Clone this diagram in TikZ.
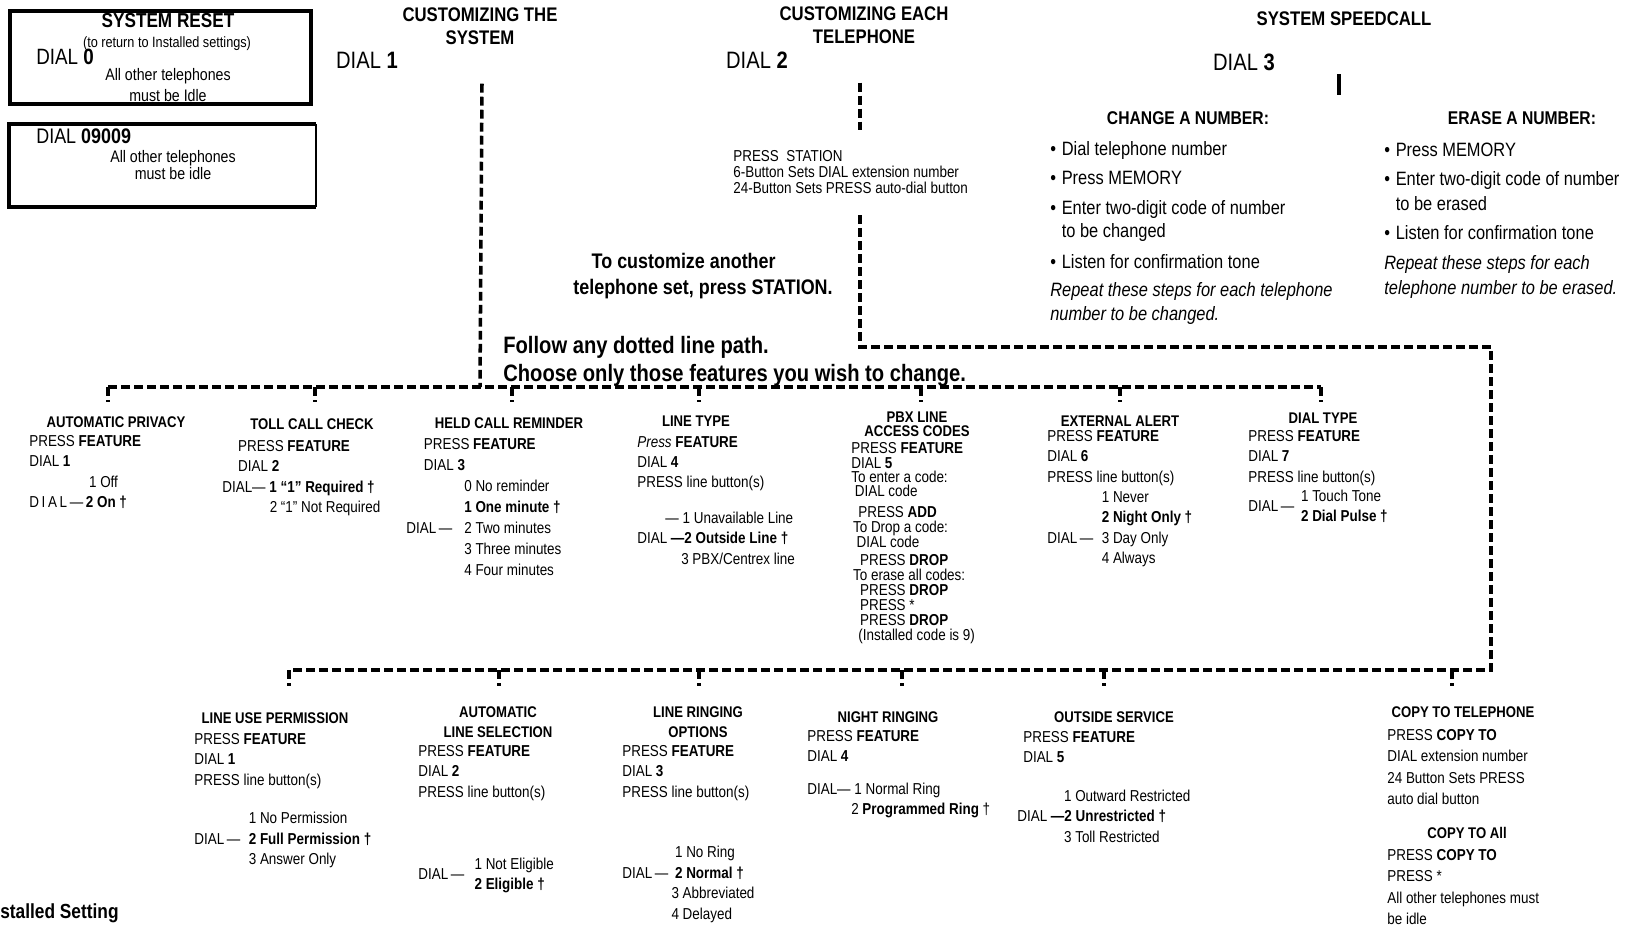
\documentclass[tikz,border=0pt]{standalone}
\usepackage{fontspec}
\setmainfont{Liberation Sans}[FakeStretch=0.85]
\usepackage{tikz}
\usetikzlibrary{positioning}

\newcommand{\dotitem}{\makebox[6.5pt][l]{\fontsize{11}{11}\selectfont •}}
\newcommand{\dialto}[1]{\makebox[#1][l]{DIAL\,---}}

\begin{document}
\begin{tikzpicture}[x=0.02cm,y=-0.02cm]
		\tikzstyle{dot_path}=[line width=2pt, dash pattern=on 5pt off 2.4pt]
		\tikzstyle{box_line}=[line width=2.2pt]
		\tikzstyle{feature_title}=[inner sep=0pt, align=center, font=\bfseries\fontsize{8.8}{11.3}\selectfont]
		\tikzstyle{feature_steps}=[inner sep=0pt, anchor=north west, align=left, font=\fontsize{9}{11.6}\selectfont]
		\tikzstyle{head_text}=[inner sep=0pt, align=center, font=\bfseries\fontsize{11.2}{13}\selectfont]
		\tikzstyle{dial_text}=[inner sep=0pt, font=\fontsize{13.5}{15}\selectfont]
		\tikzstyle{speed_text}=[inner sep=0pt, anchor=north west, align=left, font=\fontsize{11}{13.6}\selectfont]

		\useasboundingbox (0,0) rectangle (1641,927);

		% reset boxes
		\draw[box_line] (10,11) rectangle (311,104);
		\node[inner sep=0pt, font=\bfseries\fontsize{11.5}{12}\selectfont] (reset) at (168,21) {SYSTEM RESET};
		\node[inner sep=0pt, font=\fontsize{8.5}{9}\selectfont] (reset_note) at (167,44) {(to return to Installed settings)};
		\node[dial_text, anchor=west, font=\fontsize{12.6}{14}\selectfont] (dial_zero) at (36,57) {DIAL \textbf{0}};
		\node[inner sep=0pt, align=center, font=\fontsize{9.5}{12}\selectfont] (reset_idle) at (168,85) {All other telephones\\must be Idle};

		\draw[box_line] (316,124) -- (9,124) -- (9,207) -- (316,207);
		\draw[line width=0.9pt] (316,124) -- (316,207);
		\node[dial_text, anchor=west, font=\fontsize{12}{13}\selectfont] (dial_code) at (36,136) {DIAL \textbf{09009}};
		\node[inner sep=0pt, align=center, font=\fontsize{9.5}{10}\selectfont] (code_idle) at (173,165) {All other telephones\\must be idle};

		% headings
		\node[head_text] (sys_title) at (480,26) {CUSTOMIZING THE\\SYSTEM};
		\node[dial_text] (dial_one) at (367,60) {DIAL \textbf{1}};
		\node[head_text] (tel_title) at (864,25) {CUSTOMIZING EACH\\TELEPHONE};
		\node[dial_text] (dial_two) at (757,60) {DIAL \textbf{2}};
		\node[head_text] (speed_title) at (1344,19) {SYSTEM SPEEDCALL};
		\node[dial_text] (dial_three) at (1244,62) {DIAL \textbf{3}};

		\node[inner sep=0pt, anchor=north west, align=left, font=\fontsize{9}{9}\selectfont] (station) at (733,150)
			{PRESS\ \ STATION\\6-Button Sets DIAL extension number\\24-Button Sets PRESS auto-dial button};
		\node[inner sep=0pt, align=center, font=\bfseries\fontsize{12}{15.3}\selectfont] (another) at (703,276)
			{To customize another\hspace*{22pt}\\telephone set, press STATION.};
		\node[inner sep=0pt, anchor=north west, align=left, font=\bfseries\fontsize{13.5}{15.9}\selectfont] (follow) at (503,336)
			{Follow any dotted line path.\\Choose only those features you wish to change.};

		% system speedcall
		\node[inner sep=0pt, font=\bfseries\fontsize{10.5}{12}\selectfont] (change) at (1188,118) {CHANGE A NUMBER:};
		\node[speed_text] (change_steps) at (1050,141) {
			\dotitem Dial telephone number\\[2.8pt]
			\dotitem Press MEMORY\\[3.4pt]
			\dotitem Enter two-digit code of number\\
			\hspace*{6.5pt}to be changed\\[4pt]
			\dotitem Listen for confirmation tone\\[2.3pt]
			\textit{Repeat these steps for each telephone}\\
			\textit{number to be changed.}};
		\node[inner sep=0pt, font=\bfseries\fontsize{10.5}{12}\selectfont] (erase) at (1522,118) {ERASE A NUMBER:};
		\node[speed_text] (erase_steps) at (1384,143) {
			\dotitem Press MEMORY\\[2.8pt]
			\dotitem Enter two-digit code of number\\[0.8pt]
			\hspace*{6.5pt}to be erased\\[2.8pt]
			\dotitem Listen for confirmation tone\\[3.4pt]
			\textit{Repeat these steps for each}\\[0.8pt]
			\textit{telephone number to be erased.}};

		% system features
		\node[feature_title] (privacy) at (116,422) {AUTOMATIC PRIVACY};
		\node[feature_steps] (privacy_steps) at (29,435) {PRESS \textbf{FEATURE}\\
			DIAL \textbf{1}\\
			\hspace*{34pt}1 Off\\
			D\,I\,A\,L\,---\,\textbf{2 On †}};

		\node[feature_title] (toll) at (312,424) {TOLL CALL CHECK};
		\node[feature_steps] (toll_steps) at (222,440) {\hspace*{9pt}PRESS \textbf{FEATURE}\\
			\hspace*{9pt}DIAL \textbf{2}\\
			DIAL--- \textbf{1 “1” Required †}\\
			\hspace*{27pt}2 “1” Not Required};

		\node[feature_title] (held) at (509,423) {HELD CALL REMINDER};
		\node[feature_steps, font=\fontsize{9}{12}\selectfont] (held_steps) at (406,438) {\hspace*{10pt}PRESS \textbf{FEATURE}\\
			\hspace*{10pt}DIAL \textbf{3}\\
			\hspace*{33pt}0 No reminder\\
			\hspace*{33pt}\textbf{1 One minute †}\\
			\dialto{33pt}2 Two minutes\\
			\hspace*{33pt}3 Three minutes\\
			\hspace*{33pt}4 Four minutes};

		\node[feature_title] (linetype) at (696,421) {LINE TYPE};
		\node[feature_steps] (linetype_steps) at (637,436) {\textit{Press} \textbf{FEATURE}\\
			DIAL \textbf{4}\\
			PRESS line button(s)\\[8.5pt]
			\hspace*{16pt}--- 1 Unavailable Line\\
			DIAL \textbf{---2 Outside Line †}\\
			\hspace*{25pt}3 PBX/Centrex line};

		\node[feature_title, font=\bfseries\fontsize{8.8}{8}\selectfont] (pbx) at (917,424) {PBX LINE\\ACCESS CODES};
		\node[feature_steps, font=\fontsize{9}{8.6}\selectfont] (pbx_steps) at (851,442) {PRESS \textbf{FEATURE}\\
			DIAL \textbf{5}\\[-0.5pt]
			To enter a code:\\[-0.5pt]
			\hspace*{2pt}DIAL code\\[3pt]
			\hspace*{4pt}PRESS \textbf{ADD}\\
			\hspace*{1pt}To Drop a code:\\
			\hspace*{3pt}DIAL code\\[1.5pt]
			\hspace*{5pt}PRESS \textbf{DROP}\\
			\hspace*{1pt}To erase all codes:\\
			\hspace*{5pt}PRESS \textbf{DROP}\\
			\hspace*{5pt}PRESS *\\
			\hspace*{5pt}PRESS \textbf{DROP}\\
			\hspace*{4pt}(Installed code is 9)};

		\node[feature_title] (alert) at (1120,421) {EXTERNAL ALERT};
		\node[feature_steps] (alert_steps) at (1047,430) {PRESS \textbf{FEATURE}\\
			DIAL \textbf{6}\\
			PRESS line button(s)\\
			\hspace*{31pt}1 Never\\
			\hspace*{31pt}\textbf{2 Night Only †}\\
			\dialto{31pt}3 Day Only\\
			\hspace*{31pt}4 Always};

		\node[feature_title] (dialtype) at (1323,418) {DIAL TYPE};
		\node[feature_steps] (dialtype_steps) at (1248,430) {PRESS \textbf{FEATURE}\\
			DIAL \textbf{7}\\
			PRESS line button(s)\\
			\dialto{30pt}\begin{tabular}[c]{@{}l@{}}1 Touch Tone\\\textbf{2 Dial Pulse †}\end{tabular}};

		% telephone features
		\node[feature_title] (lineuse) at (275,718) {LINE USE PERMISSION};
		\node[feature_steps] (lineuse_steps) at (194,733) {PRESS \textbf{FEATURE}\\
			DIAL \textbf{1}\\
			PRESS line button(s)\\[10.5pt]
			\hspace*{31pt}1 No Permission\\
			\dialto{31pt}\textbf{2 Full Permission †}\\
			\hspace*{31pt}3 Answer Only};

		\node[feature_title] (autosel) at (498,722) {AUTOMATIC\\LINE SELECTION};
		\node[feature_steps] (autosel_steps) at (418,745) {PRESS \textbf{FEATURE}\\
			DIAL \textbf{2}\\
			PRESS line button(s)\\[30pt]
			\dialto{32pt}\begin{tabular}[c]{@{}l@{}}1 Not Eligible\\\textbf{2 Eligible †}\end{tabular}};

		\node[feature_title] (ringing) at (698,722) {LINE RINGING\\OPTIONS};
		\node[feature_steps] (ringing_steps) at (622,745) {PRESS \textbf{FEATURE}\\
			DIAL \textbf{3}\\
			PRESS line button(s)\\[23pt]
			\hspace*{30pt}1 No Ring\\
			\dialto{30pt}\textbf{2 Normal †}\\
			\hspace*{28pt}3 Abbreviated\\
			\hspace*{28pt}4 Delayed};

		\node[feature_title] (night) at (888,717) {NIGHT RINGING};
		\node[feature_steps] (night_steps) at (807,730) {PRESS \textbf{FEATURE}\\
			DIAL \textbf{4}\\[7pt]
			DIAL--- 1 Normal Ring\\
			\hspace*{25pt}2 \textbf{Programmed Ring} †};

		\node[feature_title] (outside) at (1114,717) {OUTSIDE SERVICE};
		\node[feature_steps] (outside_steps) at (1017,731) {\hspace*{3.4pt}PRESS \textbf{FEATURE}\\
			\hspace*{3.4pt}DIAL \textbf{5}\\[10.5pt]
			\hspace*{26.6pt}1 Outward Restricted\\
			DIAL \textbf{---2 Unrestricted †}\\
			\hspace*{26.6pt}3 Toll Restricted};

		\node[feature_title] (copy) at (1463,712) {COPY TO TELEPHONE};
		\node[feature_steps, font=\fontsize{9}{12.2}\selectfont] (copy_steps) at (1387,729) {PRESS \textbf{COPY TO}\\
			DIAL extension number\\
			24 Button Sets PRESS\\
			auto dial button};
		\node[feature_title] (copy_all) at (1467,833) {COPY TO All};
		\node[feature_steps, font=\fontsize{9}{12.2}\selectfont] (copy_all_steps) at (1387,849) {PRESS \textbf{COPY TO}\\
			PRESS *\\
			All other telephones must\\
			be idle};

		\node[anchor=east, inner sep=0pt, font=\bfseries\fontsize{11.6}{12}\selectfont] (installed) at (119,913) {stalled Setting};

		% dotted paths
		\coordinate (bus_top_l) at (108,387);
		\coordinate (bus_top_r) at (1321,387);
		\coordinate (tel_low) at (860,215);
		\coordinate (right_turn) at (1491,347);
		\coordinate (bus_low) at (289,670);

		\draw[dot_path] (sys_title.south) ++(2,39) -- (sys_title.south |- bus_top_l) ++(2,0);
		\draw[dot_path] (bus_top_l) -- (bus_top_r);
		\foreach \n/\dx in {privacy/-8,toll/3,held/3,linetype/3,pbx/4,alert/0,dialtype/-2}
			\draw[dot_path] (\n.north |- bus_top_l) ++(\dx,0) -- ++(0,15);

		\draw[dot_path] (tel_title.south) ++(-4,39) -- ++(0,47);
		\draw[dot_path] (tel_low) |- (right_turn) |- (bus_low);
		\foreach \n/\dx in {lineuse/14,autosel/1,ringing/1,night/14,outside/-10,copy/-11}
			\draw[dot_path] (\n.north |- bus_low) ++(\dx,0) -- ++(0,16);

		\draw[line width=2pt] (speed_title.south) ++(-5,48) -- ++(0,21);
	\end{tikzpicture}
\end{document}
